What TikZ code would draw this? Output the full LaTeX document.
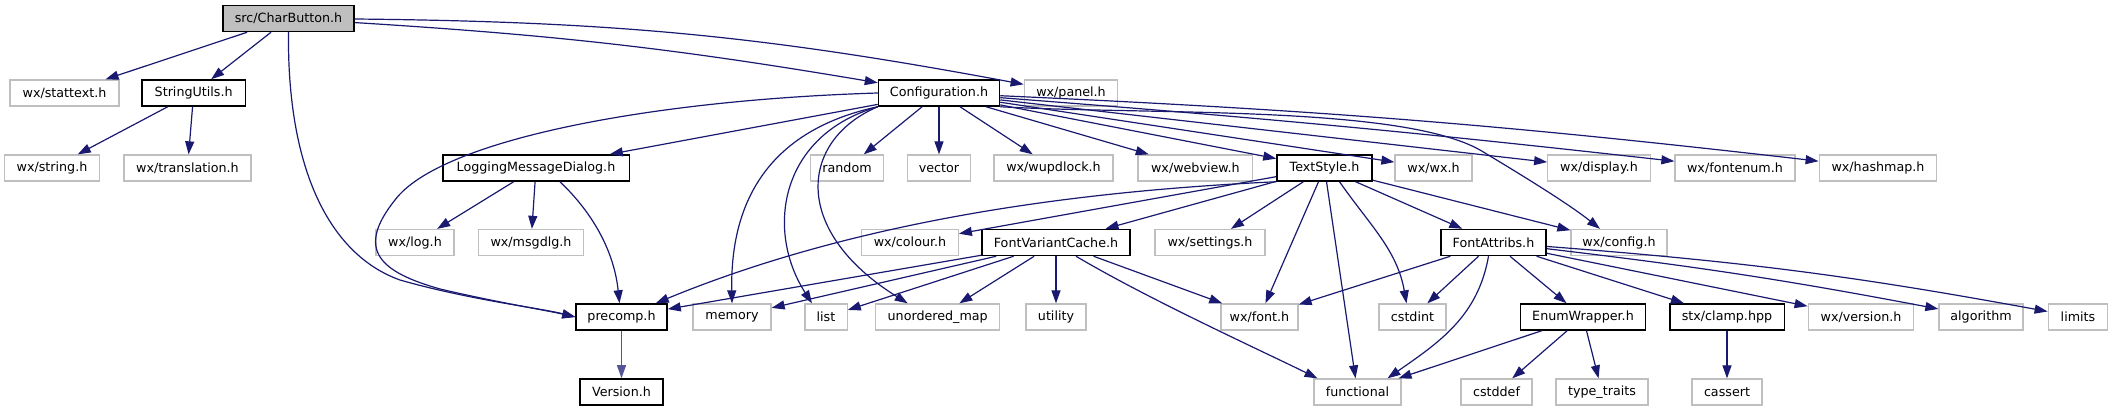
\documentclass[tikz,border=0pt]{standalone}
\usepackage{fontspec}
\newfontfamily\dotfont{DejaVu Sans}
\usetikzlibrary{arrows.meta}

\definecolor{EdgeBlue}{RGB}{25,25,112}
\definecolor{LinkSlate}{RGB}{85,85,150}
\definecolor{BoxGrey}{RGB}{191,191,191}

\tikzset{
  hdr/.style={draw=black, line width=1.5pt, fill=white, minimum height=26pt, inner sep=0pt,
              font=\dotfont\fontsize{12.7}{15}\selectfont},
  sys/.style={hdr, draw=BoxGrey, line width=1.3pt},
  rootbox/.style={hdr, fill=BoxGrey},
  dep/.style={-{Triangle[length=13pt,width=9pt]}, EdgeBlue, line width=1.2pt},
}

\begin{document}
\begin{tikzpicture}[x=1pt, y=-1pt]
                \useasboundingbox (0,0) rectangle (2113,411);
                % Row 1 - the file itself
                \node[rootbox, minimum width=131pt] (root) at (288.5,18.5) {src/CharButton.h};
                % Row 2
                \node[sys, minimum width=109pt] (stattext) at (64.5,93) {wx/stattext.h};
                \node[hdr, minimum width=103.5pt] (strutil) at (193.7,93) {StringUtils.h};
                \node[hdr, minimum width=121pt] (conf) at (939,93) {Configuration.h};
                \node[sys, minimum width=93.5pt] (panel) at (1071,93) {wx/panel.h};
                % Row 3
                \node[sys, minimum width=95.5pt] (string) at (52,168) {wx/string.h};
                \node[sys, minimum width=127pt] (transl) at (187.5,168) {wx/translation.h};
                \node[hdr, minimum width=186.5pt] (logdlg) at (536,168) {LoggingMessageDialog.h};
                \node[sys, minimum width=72.5pt] (random) at (847,168) {random};
                \node[sys, minimum width=63pt] (vector) at (939,168) {vector};
                \node[sys, minimum width=119pt] (wupdlock) at (1053.5,168) {wx/wupdlock.h};
                \node[sys, minimum width=114.7pt] (webview) at (1195.4,168) {wx/webview.h};
                \node[hdr, minimum width=95pt] (tstyle) at (1324.5,168) {TextStyle.h};
                \node[sys, minimum width=77pt] (wxh) at (1433.5,168) {wx/wx.h};
                \node[sys, minimum width=102.5pt] (display) at (1599,168) {wx/display.h};
                \node[sys, minimum width=120pt] (fontenum) at (1735,168) {wx/fontenum.h};
                \node[sys, minimum width=117.5pt] (hashmap) at (1878,168) {wx/hashmap.h};
                % Row 4
                \node[sys, minimum width=78pt] (log) at (415,242.5) {wx/log.h};
                \node[sys, minimum width=105pt] (msgdlg) at (531,242.5) {wx/msgdlg.h};
                \node[sys, minimum width=96.5pt] (colour) at (910,242.5) {wx/colour.h};
                \node[hdr, minimum width=148pt] (fvcache) at (1056,242.5) {FontVariantCache.h};
                \node[sys, minimum width=110pt] (settings) at (1210,242.5) {wx/settings.h};
                \node[hdr, minimum width=105pt] (fattr) at (1493.5,242.5) {FontAttribs.h};
                \node[sys, minimum width=96pt] (config) at (1619,242.5) {wx/config.h};
                % Row 5
                \node[hdr, minimum width=91pt] (prec) at (621.5,317) {precomp.h};
                \node[sys, minimum width=78pt] (memory) at (732,317) {memory};
                \node[sys, minimum width=42.3pt] (list) at (826,317) {list};
                \node[sys, minimum width=124pt] (umap) at (937.7,317) {unordered\_map};
                \node[sys, minimum width=60pt] (utility) at (1056,317) {utility};
                \node[sys, minimum width=77pt] (font) at (1259.5,317) {wx/font.h};
                \node[sys, minimum width=67pt] (cstdint) at (1412.5,317) {cstdint};
                \node[hdr, minimum width=125pt] (enumw) at (1583,317) {EnumWrapper.h};
                \node[hdr, minimum width=114.5pt] (clamp) at (1727,317) {stx/clamp.hpp};
                \node[sys, minimum width=105.5pt] (wxver) at (1861,317) {wx/version.h};
                \node[sys, minimum width=84pt] (algo) at (1981,317) {algorithm};
                \node[sys, minimum width=59.5pt] (limits) at (2078,317) {limits};
                % Row 6
                \node[hdr, minimum width=83pt] (version) at (621.5,392) {Version.h};
                \node[sys, minimum width=87pt] (functional) at (1357.5,392) {functional};
                \node[sys, minimum width=71pt] (cstddef) at (1496.5,392) {cstddef};
                \node[sys, minimum width=92pt] (ttraits) at (1602,392) {type\_traits};
                \node[sys, minimum width=70pt] (cassert) at (1727,392) {cassert};

                % CharButton.h includes
                \draw[dep] (root) -- (stattext);
                \draw[dep] (root) -- (strutil);
                \draw[dep] (root) to[bend left=3] (conf);
                \draw[dep] (root) to[bend left=5] (panel);
                \draw[dep] (root.south) .. controls (287,170) and (330,255) .. (400,280)
                           .. controls (470,300) and (540,308) .. (prec.west);
                \draw[dep] (strutil) -- (string);
                \draw[dep] (strutil) -- (transl);

                % Configuration.h includes
                \draw[dep] (conf) -- (logdlg);
                \draw[dep] (conf.west) .. controls (650,100) and (440,140) .. (395,200)
                           .. controls (355,250) and (380,272) .. (440,289)
                           .. controls (500,303) and (545,310) .. (prec.west);
                \draw[dep] (conf.south west) .. controls (770,130) and (730,200) .. (memory.north);
                \draw[dep] (conf.south west) .. controls (780,135) and (765,230) .. ([xshift=-14pt]list.north);
                \draw[dep] (conf.south west) .. controls (800,140) and (790,230) .. ([xshift=-30pt]umap.north);
                \draw[dep] (conf) -- (random);
                \draw[dep] (conf) -- (vector);
                \draw[dep] (conf) -- (wupdlock);
                \draw[dep] (conf) -- (webview);
                \draw[dep] (conf) -- (tstyle);
                \draw[dep] (conf) -- (wxh);
                \draw[dep] (conf) -- (display);
                \draw[dep] (conf) to[bend left=1] (fontenum);
                \draw[dep] (conf) to[bend left=2] (hashmap);
                \draw[dep] (conf.south east) .. controls (1150,115) and (1400,105) .. (1480,150)
                           .. controls (1530,180) and (1570,205) .. ([xshift=-19pt]config.north);

                % LoggingMessageDialog.h includes
                \draw[dep] (logdlg) -- (log);
                \draw[dep] (logdlg) -- (msgdlg);
                \draw[dep] ([xshift=24pt]logdlg.south) .. controls (600,220) and (615,260) .. ([xshift=-2pt]prec.north);

                % TextStyle.h includes
                \draw[dep] (tstyle.south west) .. controls (1100,190) and (870,215) .. ([xshift=-12pt]prec.north east);
                \draw[dep] (tstyle) -- (colour);
                \draw[dep] (tstyle) -- (fvcache);
                \draw[dep] (tstyle) -- (settings);
                \draw[dep] (tstyle) -- (font);
                \draw[dep] (tstyle) -- (functional);
                \draw[dep] ([xshift=15pt]tstyle.south) to[out=-55,in=100] ([xshift=-6pt]cstdint.north);
                \draw[dep] (tstyle) -- (fattr);
                \draw[dep] (tstyle) -- (config);

                % FontVariantCache.h includes
                \draw[dep] (fvcache) -- (prec);
                \draw[dep] (fvcache) -- (memory);
                \draw[dep] (fvcache) -- (list);
                \draw[dep] (fvcache) -- (umap);
                \draw[dep] (fvcache) -- (utility);
                \draw[dep] (fvcache) -- (font);
                \draw[dep] ([xshift=20pt]fvcache.south) .. controls (1150,300) and (1260,350) .. ([xshift=-40pt]functional.north);

                % FontAttribs.h includes
                \draw[dep] (fattr) -- (font);
                \draw[dep] (fattr) -- (cstdint);
                \draw[dep] ([xshift=-5pt]fattr.south) to[out=-100,in=35] ([xshift=30pt]functional.north);
                \draw[dep] (fattr) -- (enumw);
                \draw[dep] (fattr) -- (clamp);
                \draw[dep] (fattr) -- (wxver);
                \draw[dep] (fattr) to[bend left=2] (algo);
                \draw[dep] (fattr) to[bend left=3] (limits);

                % EnumWrapper.h, stx/clamp.hpp, precomp.h
                \draw[dep] (enumw) -- (functional);
                \draw[dep] (enumw) -- (cstddef);
                \draw[dep] (enumw) -- (ttraits);
                \draw[dep] (clamp) -- (cassert);
                \draw[dep, LinkSlate] (prec) -- (version);
\end{tikzpicture}
\end{document}
